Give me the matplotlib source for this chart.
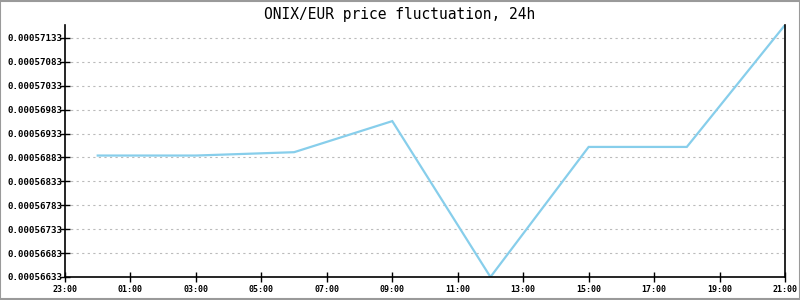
import matplotlib
matplotlib.use("Agg")
import matplotlib.pyplot as plt
from matplotlib.patches import Rectangle

# data
hours = [0, 3, 6, 9, 12, 15, 18, 21]
prices = [0.00056887, 0.00056887, 0.00056894, 0.00056959, 0.00056633,
          0.00056905, 0.00056905, 0.00057160]
xtick_pos = [-1, 1, 3, 5, 7, 9, 11, 13, 15, 17, 19, 21]
xtick_labels = ["23:00", "01:00", "03:00", "05:00", "07:00", "09:00",
                "11:00", "13:00", "15:00", "17:00", "19:00", "21:00"]
ytick_vals = [0.00056633, 0.00056683, 0.00056733, 0.00056783, 0.00056833,
              0.00056883, 0.00056933, 0.00056983, 0.00057033, 0.00057083,
              0.00057133]
title = "ONIX/EUR price fluctuation, 24h"

fig = plt.figure(figsize=(8, 3), dpi=100)
fig.patch.set_facecolor("white")
fig.add_artist(Rectangle((0.0006, 0.0017), 0.9988, 0.9966, transform=fig.transFigure,
                         fill=False, edgecolor="#9a9a9a", linewidth=1.5))

ax = fig.add_axes([65/800, 23/300, 720/800, 252/300])
ax.plot(hours, prices, color="#87ceeb", linewidth=1.6, solid_joinstyle="miter")
ax.set_xlim(-1, 21)
ax.set_ylim(min(prices), max(prices))
ax.set_xticks(xtick_pos)
ax.set_xticklabels(xtick_labels, family="DejaVu Sans Mono", fontsize=6, fontweight="bold")
ax.set_yticks(ytick_vals)
ax.set_yticklabels([f"{v:.8f}" for v in ytick_vals], family="DejaVu Sans Mono",
                   fontsize=6.6, fontweight="bold")
ax.tick_params(axis="both", direction="inout", length=7, width=1, colors="black")
ax.tick_params(axis="y", pad=-2)
ax.tick_params(axis="x", pad=2)
ax.yaxis.grid(True, color="#bbbbbb", linestyle=(0, (2, 3)), linewidth=0.8)
ax.xaxis.grid(False)
ax.spines["top"].set_visible(False)
for s in ["left", "right", "bottom"]:
    ax.spines[s].set_linewidth(1.2)
    ax.spines[s].set_color("black")
ax.set_axisbelow(True)

fig.text(0.5, 1 - 14/300, title, ha="center", va="center",
         family="DejaVu Sans Mono", fontsize=10.5)

fig.savefig("out.png", dpi=100)
